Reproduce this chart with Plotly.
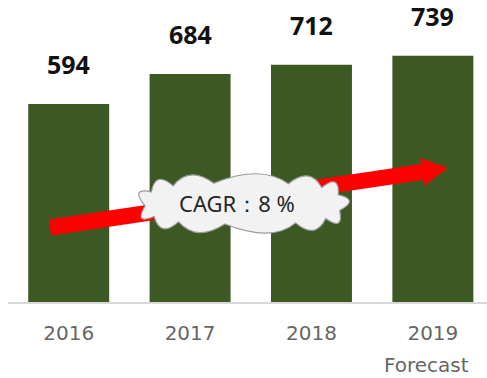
import math
import plotly.graph_objects as go

# Market size by year (2019 is a forecast)
years = ["2016", "2017", "2018", "2019"]
values = [594, 684, 712, 739]
forecast_note = "Forecast"
cagr_text = "CAGR：8 %"

W, H = 487, 378
ML, MR, MT, MB = 8, 0, 0, 76
PW, PH = W - ML - MR, H - MT - MB


def to_paper(px, py):
    return (px - ML) / PW, (H - MB - py) / PH


def path_from(points, close=True):
    pts = [to_paper(x, y) for x, y in points]
    s = "M %.5f %.5f " % pts[0] + " ".join("L %.5f %.5f" % p for p in pts[1:])
    return s + (" Z" if close else "")


# Growth arrow (pixel geometry)
sx, sy = 50, 227.5
tx, ty = 448, 168
L = math.hypot(tx - sx, ty - sy)
ux, uy = (tx - sx) / L, (ty - sy) / L
nx, ny = -uy, ux
shaft, head_w, head_l = 8, 14, 26
bx, by = tx - head_l * ux, ty - head_l * uy
arrow_pts = [
    (sx + shaft * nx, sy + shaft * ny),
    (bx + shaft * nx, by + shaft * ny),
    (bx + head_w * nx, by + head_w * ny),
    (tx, ty),
    (bx - head_w * nx, by - head_w * ny),
    (bx - shaft * nx, by - shaft * ny),
    (sx - shaft * nx, sy - shaft * ny),
]

# Cloud outline: quadratic bumps laid around a rounded superellipse
cx, cy, a, b, p = 243, 203.5, 98, 20.5, 3.0
n_bumps = 13
bump = 19


def superellipse(t):
    c, s = math.cos(t), math.sin(t)
    x = cx + a * math.copysign(abs(c) ** (2 / p), c)
    y = cy + b * math.copysign(abs(s) ** (2 / p), s)
    return x, y


def outward(t):
    e = 1e-4
    x0, y0 = superellipse(t - e)
    x1, y1 = superellipse(t + e)
    dx, dy = x1 - x0, y1 - y0
    n = math.hypot(dx, dy)
    return dy / n, -dx / n


angles = [2 * math.pi * i / n_bumps + 0.2 for i in range(n_bumps + 1)]
start = superellipse(angles[0])
cloud = "M %.5f %.5f " % to_paper(*start)
for i in range(n_bumps):
    tm = (angles[i] + angles[i + 1]) / 2
    mx, my = superellipse(tm)
    ox, oy = outward(tm)
    ctrl = to_paper(mx + ox * bump, my + oy * bump)
    end = to_paper(*superellipse(angles[i + 1]))
    cloud += "Q %.5f %.5f %.5f %.5f " % (ctrl[0], ctrl[1], end[0], end[1])
cloud += "Z"

fig = go.Figure(
    go.Bar(
        x=years,
        y=values,
        marker=dict(color="#3d5923", line=dict(width=0)),
        hoverinfo="skip",
    )
)

for i, v in enumerate(values):
    fig.add_annotation(
        x=i, y=v, text=str(v), showarrow=False, yanchor="middle", yshift=40,
        font=dict(family="Open Sans", size=25, color="#111111", weight="bold"),
    )

fig.add_annotation(
    x=2.95, y=to_paper(0, 365)[1], yref="paper", text=forecast_note,
    showarrow=False, yanchor="middle",
    font=dict(family="DejaVu Sans", size=20, color="#666666"),
)

fig.add_shape(type="path", path=path_from(arrow_pts), xref="paper", yref="paper",
              fillcolor="#ff0000", line=dict(width=0), layer="above")
fig.add_shape(type="path", path=cloud, xref="paper", yref="paper",
              fillcolor="#f2f2f2", line=dict(color="#9a9a9a", width=1.2), layer="above")

tx_c, ty_c = to_paper(237, 203.5)
fig.add_annotation(
    x=tx_c, y=ty_c, xref="paper", yref="paper", text=cagr_text, showarrow=False,
    yanchor="middle",
    font=dict(family="Noto Sans", size=22, color="#262626"),
)

fig.update_layout(
    width=W, height=H,
    margin=dict(l=ML, r=MR, t=MT, b=MB),
    paper_bgcolor="white", plot_bgcolor="white",
    bargap=0.333, showlegend=False,
    xaxis=dict(
        type="category", categoryorder="array", categoryarray=years,
        range=[-0.5, 3.446],
        showline=True, linecolor="#d9d9d9", linewidth=1.5,
        showgrid=False, ticks="", ticklabelstandoff=12,
        tickfont=dict(family="DejaVu Sans", size=20, color="#666666"),
    ),
    yaxis=dict(range=[0, 906], visible=False, showgrid=False),
)

fig.write_html("out.html")
